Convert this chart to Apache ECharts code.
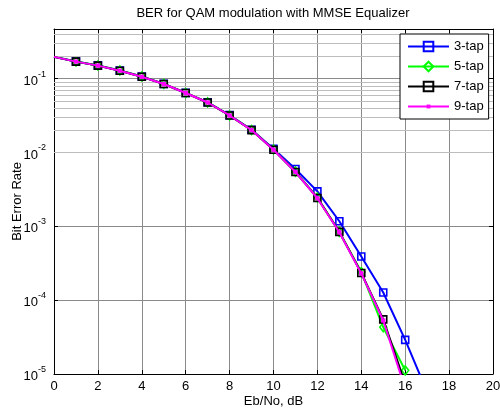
<!DOCTYPE html>
<html>
<head>
<meta charset="utf-8">
<script src="https://cdn.jsdelivr.net/npm/echarts@6/dist/echarts.min.js"></script>
<style>html,body{margin:0;padding:0;background:#fff}#c{width:500px;height:411px}</style>
</head>
<body>
<div id="c"></div>
<script>
const ebNo = [0,1,2,3,4,5,6,7,8,9,10,11,12,13,14,15,16,17];
const tap3 = [0.198,0.171,0.151,0.129,0.107,0.0850,0.0642,0.0478,0.0320,0.0203,0.0112,0.00597,0.00297,0.00117,3.9e-4,1.27e-4,2.9e-5,5.7e-6];
const tap5 = [0.197,0.171,0.151,0.129,0.107,0.0848,0.0640,0.0477,0.0318,0.0202,0.0110,0.00550,0.00245,8.4e-4,2.4e-4,4.3e-5,1.12e-5];
const tap7 = [0.197,0.170,0.150,0.128,0.106,0.0845,0.0638,0.0475,0.0317,0.0201,0.0109,0.00544,0.00242,8.4e-4,2.33e-4,5.5e-5,7.4e-6];
const tap9 = [0.197,0.170,0.150,0.128,0.106,0.0845,0.0638,0.0475,0.0317,0.0201,0.0109,0.00545,0.00240,8.3e-4,2.3e-4,5.3e-5,6.3e-6];
const seriesNames = ['3-tap','5-tap','7-tap','9-tap'];
const yMin = 1e-5, yMax = 0.47;

const FONT = 'Liberation Sans, Arial, sans-serif';
const minorVals = [];
for (let k = -5; k <= -1; k++) {
  for (let m = 2; m <= 9; m++) {
    const v = m * Math.pow(10, k);
    if (v < yMax) minorVals.push(v);
  }
}

function mk(vals) {
  return vals.map((v, i) => {
    const o = { value: [ebNo[i], v] };
    if (i === 0) o.symbol = 'none';
    return o;
  });
}

const smallMark = 'path://M0 0M10 10M3 3L7 3L7 7L3 7Z';

const chart = echarts.init(document.getElementById('c'), null, {renderer: 'canvas'});
function yFmt(v) {
  const l = Math.log10(v);
  const r = Math.round(l);
  if (Math.abs(l - r) > 1e-6) return '';
  return '{b|10}{s|' + r + '}';
}
const option = {
  animation: false,
  backgroundColor: '#fff',
  title: {
    text: 'BER for QAM modulation with MMSE Equalizer',
    left: 273, top: 7, padding: 0, textAlign: 'center',
    textStyle: { fontFamily: FONT, fontSize: 13, fontWeight: 'normal', color: '#000' }
  },
  grid: { left: 54, right: 7, top: 29, bottom: 37, containLabel: false, outerBoundsMode: 'none' },
  legend: {
    orient: 'vertical', left: 400, top: 34,
    data: seriesNames,
    backgroundColor: '#fff', borderColor: '#000', borderWidth: 1,
    padding: [6,5,6,7], itemWidth: 41, itemHeight: 12, itemGap: 7,
    textStyle: { fontFamily: FONT, fontSize: 13, color: '#000' },
    z: 10
  },
  xAxis: [{
    type: 'value', min: 0, max: 20, interval: 2, position: 'bottom',
    name: 'Eb/No, dB', nameLocation: 'middle', nameGap: 21, nameMoveOverlap: false,
    nameTextStyle: { fontFamily: FONT, fontSize: 13, color: '#000' },
    axisLine: { show: true, onZero: false, lineStyle: { color: '#000', width: 1 } },
    axisTick: { show: true, inside: true, length: 4, lineStyle: { color: '#000' } },
    axisLabel: { fontFamily: FONT, fontSize: 13, color: '#000', margin: 6 },
    splitLine: { show: true, lineStyle: { color: '#8a8a8a', width: 1 } }
  }, {
    type: 'value', min: 0, max: 20, interval: 2, position: 'top',
    axisLine: { show: true, onZero: false, lineStyle: { color: '#000', width: 1 } },
    axisTick: { show: true, inside: true, length: 4, lineStyle: { color: '#000' } },
    axisLabel: { show: false }, splitLine: { show: false }
  }],
  yAxis: [{
    type: 'log', logBase: 10, min: yMin, max: yMax, position: 'left',
    name: 'Bit Error Rate', nameLocation: 'middle', nameGap: 30, nameRotate: 90, nameMoveOverlap: false,
    nameTextStyle: { fontFamily: FONT, fontSize: 13, color: '#000' },
    axisLine: { show: true, onZero: false, lineStyle: { color: '#000', width: 1 } },
    axisTick: { show: true, inside: true, length: 4, lineStyle: { color: '#000' } },
    axisLabel: {
      margin: 8, formatter: yFmt,
      rich: {
        b: { fontFamily: FONT, fontSize: 13, color: '#000', verticalAlign: 'bottom', lineHeight: 18 },
        s: { fontFamily: FONT, fontSize: 9, color: '#000', verticalAlign: 'top', lineHeight: 18 }
      }
    },
    splitLine: { show: true, lineStyle: { color: '#8a8a8a', width: 1 } }
  }, {
    type: 'log', logBase: 10, min: yMin, max: yMax, position: 'right',
    axisLine: { show: true, onZero: false, lineStyle: { color: '#000', width: 1 } },
    axisTick: { show: true, inside: true, length: 4, lineStyle: { color: '#000' } },
    axisLabel: { show: false }, splitLine: { show: false }
  }],
  series: [
    {
      name: 'grid-minor', type: 'line', data: [], z: 1, silent: true,
      markLine: {
        silent: true, symbol: ['none','none'], label: { show: false }, animation: false,
        lineStyle: { color: '#bdbdbd', width: 1, type: 'solid' },
        data: minorVals.map(v => ({ yAxis: v }))
      }
    },
    {
      name: '3-tap', type: 'line', data: mk(tap3), symbol: 'rect', symbolSize: 7,
      lineStyle: { color: '#0000ff', width: 2 },
      itemStyle: { color: '#ffffff00', borderColor: '#0000ff', borderWidth: 1.6 },
      z: 3
    },
    {
      name: '5-tap', type: 'line', data: mk(tap5), symbol: 'diamond', symbolSize: [7, 9],
      lineStyle: { color: '#00ff00', width: 2 },
      itemStyle: { color: '#ffffff00', borderColor: '#00ff00', borderWidth: 1.6 },
      z: 4
    },
    {
      name: '7-tap', type: 'line', data: mk(tap7), symbol: 'rect', symbolSize: 7,
      lineStyle: { color: '#000000', width: 2 },
      itemStyle: { color: '#ffffff00', borderColor: '#000000', borderWidth: 1.6 },
      z: 5
    },
    {
      name: '9-tap', type: 'line', data: mk(tap9), symbol: smallMark, symbolSize: 11,
      lineStyle: { color: '#ff00ff', width: 2 },
      itemStyle: { color: '#ff00ff', borderColor: '#ff00ff', borderWidth: 0 },
      z: 6
    }
  ]
};
chart.setOption(option);
</script>
</body>
</html>
